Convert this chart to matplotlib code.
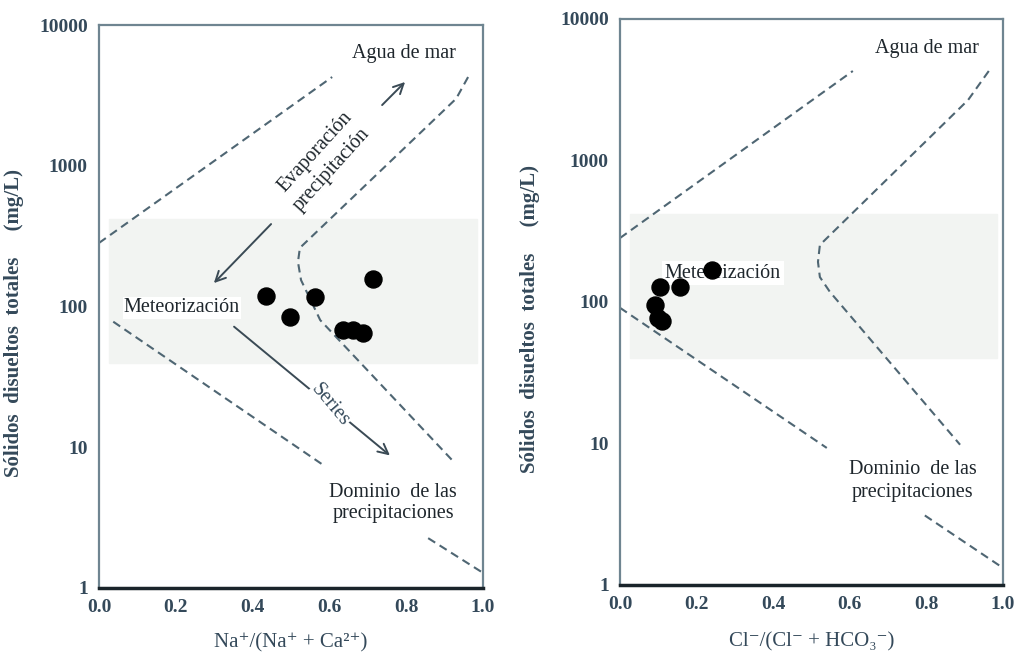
import numpy as np
import matplotlib
matplotlib.use("Agg")
import matplotlib.pyplot as plt

plt.rcParams['font.family'] = ['Liberation Serif', 'DejaVu Serif']

# Datos
na_ratio = [0.435, 0.497, 0.563, 0.714, 0.635, 0.660, 0.688]
na_tds = [119, 84, 117, 157, 68, 68, 65]

cl_ratio = [0.240, 0.104, 0.157, 0.091, 0.100, 0.110]
cl_tds = [168, 128, 127, 95, 77, 73]

# Curvas límite del diagrama de Gibbs
gibbs_izq_sup_x = [0.0, 0.607]
gibbs_izq_sup_y = [283, 4270]
gibbs_izq_der_x = [0.961, 0.93, 0.523, 0.518, 0.526, 0.576, 0.927]
gibbs_izq_der_y = [4270, 3000, 261, 207, 154, 80, 7.7]
gibbs_izq_inf_x = [0.037, 0.583]
gibbs_izq_inf_y = [78, 7.5]
gibbs_izq_bajo_x = [0.857, 1.0]
gibbs_izq_bajo_y = [2.26, 1.28]

gibbs_der_sup_x = [0.0, 0.608]
gibbs_der_sup_y = [283, 4290]
gibbs_der_der_x = [0.963, 0.909, 0.522, 0.517, 0.522, 0.548, 0.888]
gibbs_der_der_y = [4290, 2677, 253, 192, 150, 118, 9.8]
gibbs_der_inf_x = [0.0, 0.540]
gibbs_der_inf_y = [91, 9.3]
gibbs_der_bajo_x = [0.796, 1.0]
gibbs_der_bajo_y = [3.1, 1.32]

yticks = [1, 10, 100, 1000, 10000]
xticks = [0.0, 0.2, 0.4, 0.6, 0.8, 1.0]

color_linea = '#4f6673'
color_texto = '#1e262c'
color_eje = '#34495a'
fs = 14.5

fig = plt.figure(figsize=(10.2, 6.55), dpi=100)
ax1 = fig.add_axes([0.0971, 0.1023, 0.3765, 0.8595])
ax2 = fig.add_axes([0.6078, 0.1069, 0.3755, 0.8641])


def preparar(ax, xlabel, ylab_x, xlab_y):
    ax.set_yscale('log')
    ax.set_xlim(0, 1)
    ax.set_ylim(1, 10000)
    ax.set_yticks(yticks)
    ax.set_yticklabels([str(v) for v in yticks])
    ax.set_xticks(xticks)
    ax.set_xticklabels(['%.1f' % v for v in xticks])
    ax.minorticks_off()
    ax.tick_params(length=0, labelsize=14, colors=color_eje, pad=8)
    for lab in ax.get_xticklabels() + ax.get_yticklabels():
        lab.set_fontweight('bold')
    for s in ['left', 'top', 'right']:
        ax.spines[s].set_color('#6f8591')
        ax.spines[s].set_linewidth(1.6)
    ax.spines['bottom'].set_color('#1a242a')
    ax.spines['bottom'].set_linewidth(2.5)
    ax.axhspan(40, 420, xmin=0.025, xmax=0.985, color='#f2f4f2', zorder=0)
    ax.set_xlabel(xlabel, fontsize=15, color=color_eje)
    ax.xaxis.set_label_coords(0.5, xlab_y)
    ax.set_ylabel('Sólidos  disueltos  totales     (mg/L)', fontsize=15,
                  color=color_eje, fontweight='bold')
    ax.yaxis.set_label_coords(ylab_x, 0.47)


preparar(ax1, 'Na⁺/(Na⁺ + Ca²⁺)', -0.195, -0.08)
preparar(ax2, 'Cl⁻/(Cl⁻ + HCO₃⁻)', -0.21, -0.083)

estilo = dict(color=color_linea, linestyle=(0, (4, 2.5)), linewidth=1.5, zorder=2)
for xs, ys in [(gibbs_izq_sup_x, gibbs_izq_sup_y), (gibbs_izq_der_x, gibbs_izq_der_y),
               (gibbs_izq_inf_x, gibbs_izq_inf_y), (gibbs_izq_bajo_x, gibbs_izq_bajo_y)]:
    ax1.plot(xs, ys, **estilo)
for xs, ys in [(gibbs_der_sup_x, gibbs_der_sup_y), (gibbs_der_der_x, gibbs_der_der_y),
               (gibbs_der_inf_x, gibbs_der_inf_y), (gibbs_der_bajo_x, gibbs_der_bajo_y)]:
    ax2.plot(xs, ys, **estilo)

# Flechas del panel izquierdo
flecha = dict(arrowstyle='->', color='#3a4a55', lw=1.4, mutation_scale=18)
ax1.annotate('', xy=(0.802, 4067), xytext=(0.732, 2614), arrowprops=flecha)
ax1.annotate('', xy=(0.294, 142), xytext=(0.453, 398), arrowprops=flecha)
ax1.annotate('', xy=(0.763, 8.5), xytext=(0.346, 74), arrowprops=flecha)

txt = dict(fontsize=fs, color=color_texto, ha='center', va='center')
ax1.text(0.794, 6300, 'Agua de mar', **txt)
ax1.text(0.5625, 1253, 'Evaporación', rotation=48, **txt)
ax1.text(0.607, 933, 'precipitación', rotation=48, **txt)
ax1.text(0.216, 97.6, 'Meteorización', zorder=3,
         bbox=dict(facecolor='white', edgecolor='none', pad=1), **txt)
ax1.text(0.602, 20, 'Series', rotation=-50, color='#34495a', fontsize=fs,
         ha='center', va='center', zorder=4,
         bbox=dict(facecolor='white', edgecolor='none', pad=0.5))
ax1.text(0.766, 4.8, 'Dominio  de las', **txt)
ax1.text(0.766, 3.4, 'precipitaciones', **txt)

ax2.text(0.802, 6138, 'Agua de mar', **txt)
ax2.text(0.269, 160, 'Meteorización', zorder=3,
         bbox=dict(facecolor='white', edgecolor='none', pad=2), **txt)
ax2.text(0.765, 6.5, 'Dominio  de las', **txt)
ax2.text(0.765, 4.47, 'precipitaciones', **txt)

ax1.scatter(na_ratio, na_tds, s=150, color='black', zorder=5)
ax2.scatter(cl_ratio, cl_tds, s=150, color='black', zorder=5)

fig.savefig('out.png', dpi=100, facecolor='white')
